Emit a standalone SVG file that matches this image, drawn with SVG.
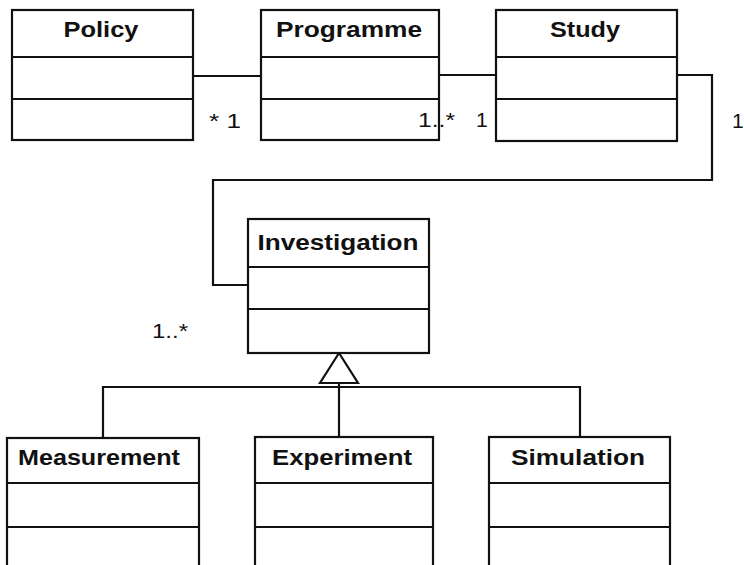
<svg xmlns="http://www.w3.org/2000/svg" width="744" height="565" viewBox="0 0 744 565">
<style>
.box{fill:#fff;stroke:#111;stroke-width:2.2}
.ln{fill:none;stroke:#111;stroke-width:2.2}
.t{font-family:"Liberation Sans",Arial,sans-serif;font-weight:bold;font-size:22px;fill:#111;text-anchor:middle}
.m{font-family:"Liberation Sans",Arial,sans-serif;font-size:21px;fill:#111}
</style>
<rect width="744" height="565" fill="#fff"/>
<g id="connectors">
<path class="ln" d="M193 76H261"/>
<path class="ln" d="M439 75H496"/>
<path class="ln" d="M677 75H712V180H213V285H248"/>
<polygon class="ln" points="339,353 320,383 358,383"/>
<path class="ln" d="M339 383V437"/>
<path class="ln" d="M103 437V387H580V437"/>
</g>
<g id="policy">
<rect class="box" x="12" y="10" width="181" height="130"/>
<path class="ln" d="M12 57H193M12 99H193"/>
<text class="t" x="101" y="37" textLength="75" lengthAdjust="spacingAndGlyphs">Policy</text>
</g>
<g id="programme">
<rect class="box" x="261" y="10" width="178" height="130"/>
<path class="ln" d="M261 57H439M261 99H439"/>
<text class="t" x="349" y="37" textLength="146" lengthAdjust="spacingAndGlyphs">Programme</text>
</g>
<g id="study">
<rect class="box" x="496" y="10" width="181" height="131"/>
<path class="ln" d="M496 57H677M496 99H677"/>
<text class="t" x="585" y="37" textLength="70" lengthAdjust="spacingAndGlyphs">Study</text>
</g>
<g id="investigation">
<rect class="box" x="248" y="219" width="181" height="134"/>
<path class="ln" d="M248 267H429M248 309H429"/>
<text class="t" x="338" y="250" textLength="161" lengthAdjust="spacingAndGlyphs">Investigation</text>
</g>
<g id="measurement">
<rect class="box" x="7" y="438" width="192" height="150"/>
<path class="ln" d="M7 483H199M7 527H199"/>
<text class="t" x="99" y="465" textLength="162" lengthAdjust="spacingAndGlyphs">Measurement</text>
</g>
<g id="experiment">
<rect class="box" x="255" y="437" width="178" height="150"/>
<path class="ln" d="M255 483H433M255 527H433"/>
<text class="t" x="342" y="465" textLength="140" lengthAdjust="spacingAndGlyphs">Experiment</text>
</g>
<g id="simulation">
<rect class="box" x="489" y="437" width="181" height="150"/>
<path class="ln" d="M489 483H670M489 527H670"/>
<text class="t" x="578" y="465" textLength="134" lengthAdjust="spacingAndGlyphs">Simulation</text>
</g>
<g id="multiplicities">
<text class="m" x="209" y="128" textLength="32" lengthAdjust="spacingAndGlyphs">* 1</text>
<text class="m" x="418" y="127" textLength="37" lengthAdjust="spacingAndGlyphs">1..*</text>
<text class="m" x="476" y="127">1</text>
<text class="m" x="732" y="128">1</text>
<text class="m" x="152" y="338" textLength="36" lengthAdjust="spacingAndGlyphs">1..*</text>
</g>
</svg>
